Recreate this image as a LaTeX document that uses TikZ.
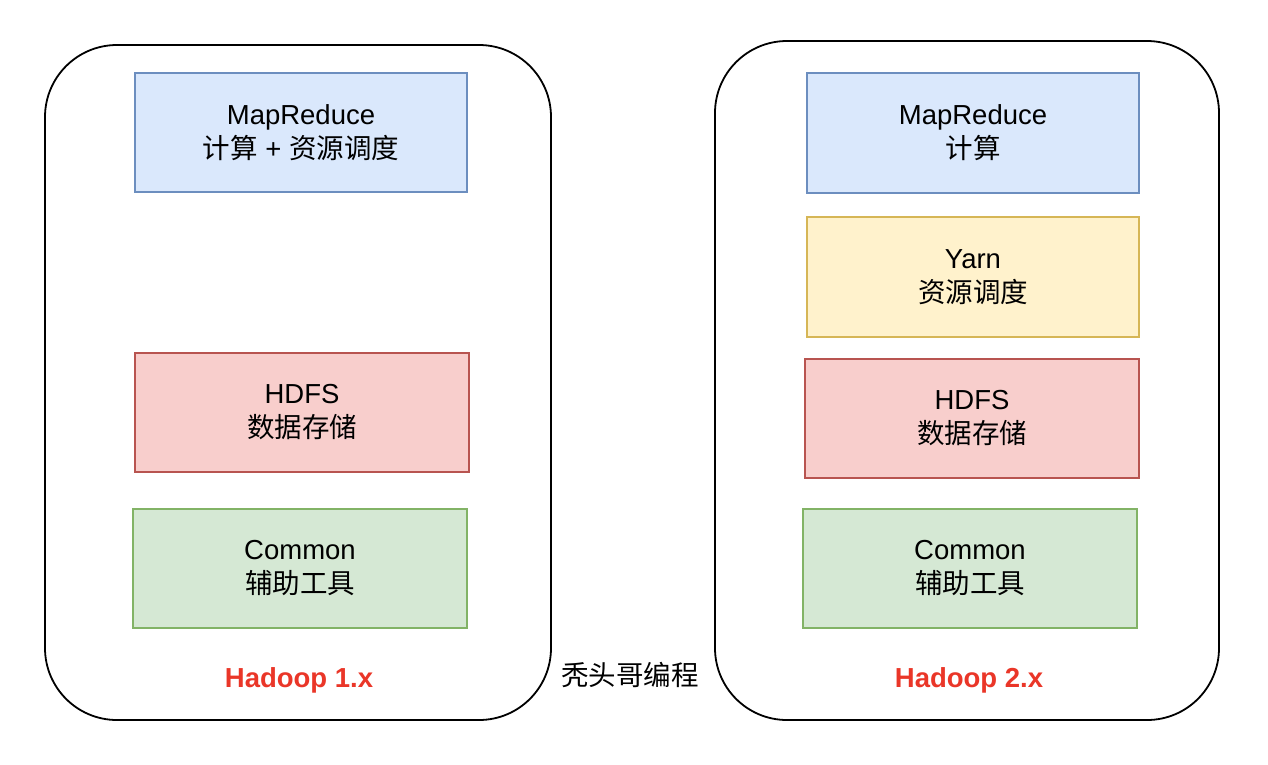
\documentclass[tikz,border=0pt]{standalone}
\usepackage{fontspec}
\setmainfont{Liberation Sans}
\newfontfamily\cjk{Noto Sans CJK SC}
\usepackage{xcolor}
\usepackage{tikz}
\usetikzlibrary{positioning}
\definecolor{mrfill}{HTML}{DAE8FC}
\definecolor{mrline}{HTML}{6C8EBF}
\definecolor{yarnfill}{HTML}{FFF2CC}
\definecolor{yarnline}{HTML}{D6B656}
\definecolor{hdfsfill}{HTML}{F8CECC}
\definecolor{hdfsline}{HTML}{B85450}
\definecolor{commonfill}{HTML}{D5E8D4}
\definecolor{commonline}{HTML}{82B366}
\definecolor{titlered}{RGB}{234,54,40}
\tikzset{
    shell/.style={rectangle, rounded corners=72pt, draw, line width=1.8pt, minimum width=506pt, minimum height=675pt},
    layer/.style={rectangle, draw, line width=1.4pt, minimum width=332pt, minimum height=119pt, text centered, align=center, font=\fontsize{27.5}{34}\selectfont},
    version/.style={font=\fontsize{27.5}{32}\selectfont\bfseries, text=titlered},
    note/.style={font=\fontsize{27.5}{32}\selectfont\cjk}
}
\begin{document}
\begin{tikzpicture}[x=1pt, y=-1pt]
    \useasboundingbox (0,0) rectangle (1268,764);
    % Outer frames
    \node[shell] (v1) at (298,382.5) {};
    \node[shell, minimum width=504pt, minimum height=679pt] (v2) at (967,380.5) {};

    % Hadoop 1.x stack
    \node[layer, fill=mrfill, draw=mrline] (mr1) at (301,132.5) {MapReduce\\ {\cjk 计算} + {\cjk 资源调度}};
    \node[layer, fill=hdfsfill, draw=hdfsline, minimum width=334pt] (hdfs1) at (302,412.5) {HDFS\\ {\cjk 数据存储}};
    \node[layer, fill=commonfill, draw=commonline, minimum width=334pt] (common1) at (300,568.5) {Common\\ {\cjk 辅助工具}};
    \node[version] (t1) at (299,680) {Hadoop 1.x};

    % Hadoop 2.x stack
    \node[layer, fill=mrfill, draw=mrline, minimum height=120pt] (mr2) at (973,133) {MapReduce\\ {\cjk 计算}};
    \node[layer, fill=yarnfill, draw=yarnline, minimum height=120pt] (yarn2) at (973,277) {Yarn\\ {\cjk 资源调度}};
    \node[layer, fill=hdfsfill, draw=hdfsline, minimum width=334pt] (hdfs2) at (972,418.5) {HDFS\\ {\cjk 数据存储}};
    \node[layer, fill=commonfill, draw=commonline, minimum width=334pt] (common2) at (970,568.5) {Common\\ {\cjk 辅助工具}};
    \node[version] (t2) at (969,680) {Hadoop 2.x};

    % Watermark
    \node[note] (mark) at (630,675) {秃头哥编程};
\end{tikzpicture}
\end{document}
